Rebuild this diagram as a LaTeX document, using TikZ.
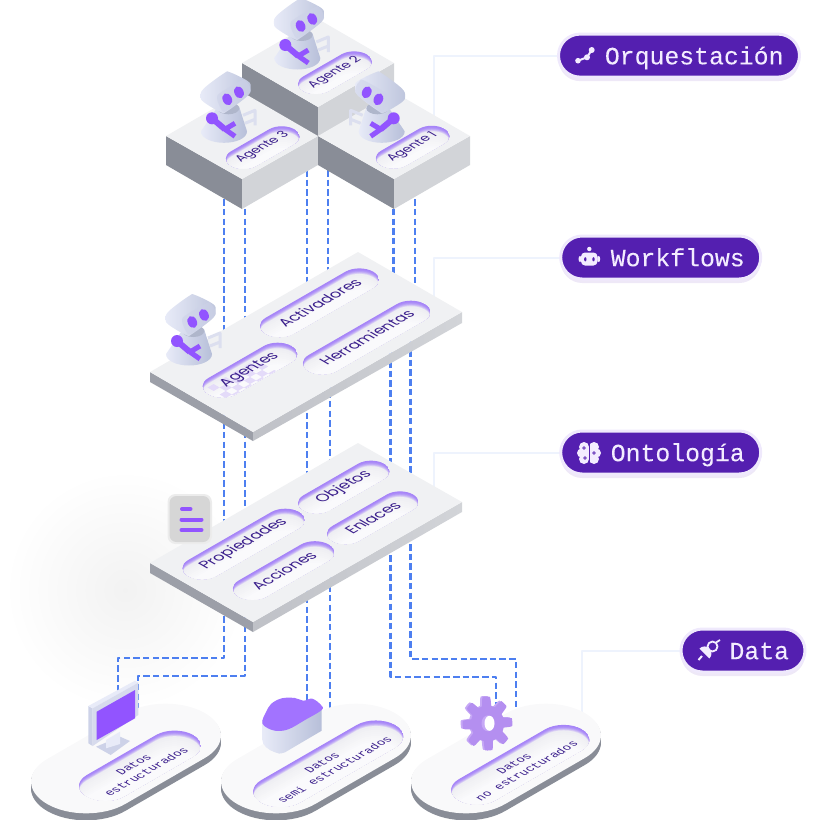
\documentclass[tikz,border=0pt]{standalone}
\usepackage{fontspec}
\setmainfont{Poppins}
\newfontfamily\monof[FakeBold=0.1]{Liberation Mono}
\newfontfamily\monop{Liberation Mono}
\usetikzlibrary{shadows}
\definecolor{dashc}{HTML}{4D7FF0}
\definecolor{leadc}{HTML}{EEF3FD}
\definecolor{topc}{HTML}{F0F1F3}
\definecolor{cubel}{HTML}{898D97}
\definecolor{cuber}{HTML}{D2D4D8}
\definecolor{platel}{HTML}{9C9FA8}
\definecolor{plater}{HTML}{BFC1C7}
\definecolor{rimc}{HTML}{A684F8}
\definecolor{pillc}{HTML}{EFEFF3}
\definecolor{pillw}{HTML}{FAFAFC}
\definecolor{txtc}{HTML}{3A1E8C}
\definecolor{labc}{HTML}{541FB0}
\definecolor{labe}{HTML}{EFE9FC}
\definecolor{labt}{HTML}{F3ECFF}
\definecolor{purp}{HTML}{9254FF}
\definecolor{cloudp}{HTML}{A273FF}
\definecolor{gearf}{HTML}{B48FF0}
\definecolor{gears}{HTML}{C6A8F6}
\definecolor{checkc}{HTML}{E4DBF9}
\definecolor{robl}{HTML}{E8EBF8}
\definecolor{robm}{HTML}{CDD2E8}
\definecolor{robd}{HTML}{B7BFD9}
\newcommand\stad[2]{(-#1pt,-#2pt) -- (#1pt,-#2pt) arc[start angle=-90,end angle=90,radius=#2pt] -- (-#1pt,#2pt) arc[start angle=90,end angle=270,radius=#2pt] -- cycle}
\newcommand\pillhook{}
\newcommand\textoff{0}
\newcommand\isopill[7]{%
 \begin{scope}[cm={.866,.5,-.866,.5,(#2,#3)},y=1pt]
  \begin{scope}
   \clip \stad{#4}{#5};
   \fill[rimc] \stad{#4}{#5};
   \foreach \k in {1,...,9}{
     \pgfmathsetmacro\mx{100-\k*\k*1.22}
     \fill[rimc!\mx!pillc, shift={(-\k*.62,-\k*.62)}] \stad{#4}{#5};
   }
   \foreach \k in {1,...,8}{
     \pgfmathsetmacro\mx{\k*12}
     \fill[pillw!\mx!pillc, shift={(-5.5-\k*2,-5.5-\k*2)}] \stad{#4}{#5};
   }
   \pillhook
  \end{scope}
  \node[transform shape,font=#6,text=txtc,align=center,inner sep=0pt] (#1) at (-\textoff,-\textoff) {#7};
 \end{scope}}
\newcommand\robotfig[3]{%
 \begin{scope}[shift={(#1,#2)},xscale=#3]
  \draw[robm!70!white,line width=3pt,line join=round] (19,-18) -- (31,-23) -- (31,-8) (21,-10) -- (31,-14);
  \shade[left color=robl,right color=robd] (-6,-27) -- (-23,-2) .. controls (-23,5) and (-12,9.5) .. (0,9.5) .. controls (12,9.5) and (23,5) .. (23,-2) -- (15,-27) -- cycle;
  \fill[robd!85!gray] (4.3,-25) ellipse [x radius=11pt,y radius=6pt];
  \fill[purp] (-12,-15) circle [radius=6pt];
  \draw[purp,line width=6pt] (-12,-15) -- (1,-4);
  \draw[purp,line width=5pt,line join=bevel] (11,-10) -- (1,-4) -- (11,3);
  \shade[left color=robl,right color=robd!90] plot[smooth cycle,tension=.6] coordinates {(-23.5,-37) (-20,-45) (0,-60) (6,-61) (24,-52) (26.5,-46) (24,-38) (3,-22) (-3,-21) (-20,-31)};
  \fill[robm,opacity=.55] plot[smooth cycle,tension=.6] coordinates {(-7,-35) (-2,-23) (3,-23) (24,-38) (26,-46) (22,-52) (18,-53) (-3,-41)};
  \fill[purp,rotate around={25:(3.3,-34)}] (3.3,-34) ellipse [x radius=4.6pt,y radius=6.2pt];
  \fill[purp,rotate around={25:(15,-41)}] (15,-41) ellipse [x radius=4.6pt,y radius=6.2pt];
 \end{scope}}
\newcommand\dataplate[3]{%
 \begin{scope}[cm={.866,.5,-.866,.5,(#1,#2)},y=1pt]
  \foreach \k in {1,...,7}{\fill[#3,shift={(-\k*1,-\k*1)}] \stad{46}{45};}
  \fill[white!60!topc] \stad{46}{45};
 \end{scope}}
\tikzset{
 dashline/.style={dashc,line width=2.8pt,dash pattern=on 6.5pt off 3.2pt},
 leadline/.style={leadc,line width=1.2pt},
 labelpill/.style={draw=labe,line width=3pt,fill=labc,rounded corners=21.5pt,minimum height=43pt,inner ysep=0pt,inner xsep=16pt,align=right,text=labt,text height=20pt,text depth=2.6pt,font=\monof\fontsize{24.8}{26}\selectfont,drop shadow={shadow xshift=0pt,shadow yshift=-4pt,opacity=.10,fill=labc}},
}
\newcommand\agfont{\fontsize{12.6}{14}\selectfont}
\newcommand\plfont{\fontsize{15}{18}\selectfont}
\newcommand\dafont{\monop\fontsize{11.8}{14.5}\selectfont}
\begin{document}
\begin{tikzpicture}[x=1pt,y=-1pt,line join=round,
  declare function={gr(\t)=22.5+4.5*min(1,max(-1,2.2*cos(8*\t)+.3));}]
\useasboundingbox (0,0) rectangle (814,820);
% soft shadow
\shade[inner color=black!5,outer color=white] (125,590) circle [radius=120pt];
% leaders
\coordinate (o1) at (557,56); \coordinate (o2) at (434,56); \coordinate (o3) at (434,116);
\coordinate (w1) at (560,258); \coordinate (w2) at (434,258); \coordinate (w3) at (434,300);
\coordinate (n1) at (560,453); \coordinate (n2) at (434,453); \coordinate (n3) at (434,495);
\coordinate (t1) at (680,651); \coordinate (t2) at (582,651); \coordinate (t3) at (582,712);
\draw[leadline] (o1) -- (o2) -- (o3);
\draw[leadline] (w1) -- (w2) -- (w3);
\draw[leadline] (n1) -- (n2) -- (n3);
\draw[leadline] (t1) -- (t2) -- (t3);
% dashed connectors
\coordinate (a0) at (224,170); \coordinate (a1) at (224,658); \coordinate (a2) at (118,658); \coordinate (a3) at (118,700);
\coordinate (b0) at (245,170); \coordinate (b1) at (245,676); \coordinate (b2) at (138,676); \coordinate (b3) at (138,712);
\coordinate (c0) at (307,170); \coordinate (c1) at (307,705);
\coordinate (d0) at (328,170); \coordinate (d1) at (328,370); \coordinate (d2) at (330,370); \coordinate (d3) at (330,710);
\coordinate (e0) at (393.7,170); \coordinate (e1) at (393.7,330); \coordinate (e2) at (390.7,330); \coordinate (e3) at (390.7,677); \coordinate (e4) at (496,677); \coordinate (e5) at (496,712);
\coordinate (f0) at (415,170); \coordinate (f1) at (415,320); \coordinate (f2) at (410.7,320); \coordinate (f3) at (410.7,659); \coordinate (f4) at (516,659); \coordinate (f5) at (516,715);
\draw[dashline] (a0) -- (a1) -- (a2) -- (a3);
\draw[dashline] (b0) -- (b1) -- (b2) -- (b3);
\draw[dashline] (c0) -- (c1);
\draw[dashline] (d0) -- (d1) -- (d2) -- (d3);
\draw[dashline] (e0) -- (e1) -- (e2) -- (e3) -- (e4) -- (e5);
\draw[dashline] (f0) -- (f1) -- (f2) -- (f3) -- (f4) -- (f5);
% cube 2
\fill[cubel] (242,63) -- (318,107) -- (318,137) -- (242,93) -- cycle;
\fill[cuber] (318,107) -- (394,63) -- (394,93) -- (318,137) -- cycle;
\fill[topc] (242,63) -- (318,19) -- (394,63) -- (318,107) -- cycle;
\robotfig{297.3}{60}{1}
\isopill{ag2}{335}{72.6}{22}{14.5}{\agfont}{Agente 2}
% cube 3
\fill[cubel] (166,136) -- (242,179) -- (242,209) -- (166,165) -- cycle;
\fill[cuber] (242,179) -- (318,136) -- (318,165) -- (242,209) -- cycle;
\fill[topc] (166,136) -- (242,92) -- (318,136) -- (242,179) -- cycle;
\robotfig{224}{133.3}{1}
\isopill{ag3}{262.7}{147.5}{22}{14.5}{\agfont}{Agente 3}
% cube 1
\fill[cubel] (318,136) -- (394,179) -- (394,209) -- (318,165) -- cycle;
\fill[cuber] (394,179) -- (470,136) -- (470,165) -- (394,209) -- cycle;
\fill[topc] (318,136) -- (394,92) -- (470,136) -- (394,179) -- cycle;
\robotfig{381.7}{133.3}{-1}
\isopill{ag1}{412.7}{147}{22}{14.5}{\agfont}{Agente 1}
% workflows plate
\fill[platel] (150,372) -- (253,432) -- (253,441) -- (150,382) -- cycle;
\shade[left color=plater,right color=cuber] (253,432) -- (462,312) -- (462,323) -- (253,441) -- cycle;
\fill[topc] (150,372) -- (358,252) -- (462,312) -- (253,432) -- cycle;
\isopill{pact}{319.5}{302.7}{46}{16}{\plfont}{Activadores}
\renewcommand\pillhook{\foreach \i in {-6,...,1}{\foreach \j in {-3,...,0}{\pgfmathparse{int(mod(\i+\j+20,2))}\ifnum\pgfmathresult=0\relax\fill[checkc] (\i*7,\j*7) rectangle ++(7,7);\fi}}}
\isopill{page}{250}{370}{32}{16}{\plfont}{Agentes}
\renewcommand\pillhook{}
\isopill{pher}{366.7}{337.5}{51}{16}{\plfont}{Herramientas}
\robotfig{189}{356}{1}
% ontology plate
\fill[platel] (150,563) -- (253,622) -- (253,632) -- (150,573) -- cycle;
\shade[left color=plater,right color=cuber] (253,622) -- (462,502) -- (462,512) -- (253,632) -- cycle;
\fill[topc] (150,563) -- (358,443) -- (462,502) -- (253,622) -- cycle;
\isopill{pobj}{343.8}{487}{31.5}{15}{\plfont}{Objetos}
\isopill{pprop}{243.7}{544}{48}{16}{\plfont}{Propiedades}
\isopill{penl}{372.7}{517.7}{31.5}{15}{\plfont}{Enlaces}
\isopill{pacc}{283.7}{570.5}{36}{16}{\plfont}{Acciones}
% card icon
\fill[white!85!gray,rounded corners=8pt] (167.5,494) rectangle (212,544);
\fill[black!16!white,rounded corners=7pt] (169.5,496) rectangle (210,542);
\draw[purp,line width=4pt,line cap=round] (182,509) -- (190.5,509);
\draw[purp,line width=4pt,line cap=round] (181.5,519.5) -- (201.5,519.5);
\draw[purp,line width=4pt,line cap=round] (181.5,530) -- (201.5,530);
% data plates
\dataplate{126}{758.5}{cubel}
\dataplate{316}{758.5}{cubel}
\dataplate{506}{758.5}{cubel}
\renewcommand\textoff{2.5}
\isopill{dat1}{140}{765.7}{40}{21.4}{\dafont}{Datos\\estructurados}
\isopill{dat2}{328.3}{763.7}{55}{22.3}{\dafont}{Datos\\semi estructurados}
\isopill{dat3}{520.3}{764.7}{50}{21}{\dafont}{Datos\\no estructurados}
\renewcommand\textoff{0}
% monitor
\fill[robm] (96,746.7) -- (120,736.7) -- (130,741) -- (110.7,755) -- cycle;
\fill[robl] (106,740) -- (120,731.7) -- (120,744) -- (106,748.3) -- cycle;
\fill[robm] (88.3,706) -- (92.7,708.3) -- (92.7,746) -- (88.3,743.3) -- cycle;
\fill[robl] (88.3,706) -- (135,680.7) -- (138.3,682.7) -- (92.7,708.3) -- cycle;
\fill[robm!80!white] (92.7,708.3) -- (138.3,682.7) -- (138.3,715) -- (92.7,746) -- cycle;
\fill[purp] (96.7,711.7) -- (135,690) -- (135,718.3) -- (96.7,740) -- cycle;
% cloud
\shade[left color=robl,right color=robd] (262.3,720) -- (321.7,706) -- (321.7,730.7) -- (285,752.3) .. controls (280,754) and (278,754) .. (275,752.3) .. controls (268,750) and (262.3,745) .. (262.3,740) -- cycle;
\fill[cloudp] plot[smooth cycle,tension=.6] coordinates {(262.3,720.7) (265.7,712.7) (271,704) (281.7,698.3) (295,698) (303.3,700.7) (312.3,698.7) (321,705) (321.7,710) (305,720) (288.3,729.3) (275,730.7) (264.3,726)};
% gear
\fill[gears] plot[domain=0:360,samples=161,variable=\t] ({485.5+.92*gr(\t+3)*cos(\t)},{723+gr(\t+3)*sin(\t)});
\fill[gearf] plot[domain=0:360,samples=161,variable=\t] ({487.5+.92*gr(\t+3)*cos(\t)},{723.5+gr(\t+3)*sin(\t)});
\fill[gears] (488,723.3) ellipse [x radius=6.5pt,y radius=8pt];
\fill[white] (489.5,723.3) ellipse [x radius=5pt,y radius=7.5pt];
% labels
\node[labelpill,text width=209pt] (lorq) at (679,55.6) {Orquestación};
\node[labelpill,text width=168pt] (lwor) at (660.7,257.5) {Workflows};
\node[labelpill,text width=168pt] (lont) at (660.7,452.5) {Ontología};
\node[labelpill,text width=92pt] (ldat) at (743,650.5) {Data};
% icons
\draw[labt,line width=2pt] (578,60.7) -- (587,57.3) -- (591.7,50);
\fill[labt] (578,60.7) circle [radius=2.8pt] (587,57.3) circle [radius=3pt] (591.7,50) circle [radius=3pt];
\fill[labt,rounded corners=4pt] (581,252.5) rectangle (597.5,265.5);
\fill[labt] (589.3,249) circle [radius=2.2pt];
\fill[labt] (580,259) ellipse [x radius=1.5pt,y radius=3pt] (598.7,259) ellipse [x radius=1.5pt,y radius=3pt];
\fill[labc] (585.3,259.3) ellipse [x radius=1.2pt,y radius=2.1pt] (593.5,259.3) ellipse [x radius=1.2pt,y radius=2.1pt];
\fill[labt] (584,447) circle [radius=5pt] (581.5,453) circle [radius=4.5pt] (584,459) circle [radius=5pt] (594,447) circle [radius=5pt] (596.5,453) circle [radius=4.5pt] (594,459) circle [radius=5pt] (589,453) circle [radius=6pt];
\draw[labc,line width=1pt] (589,443) -- (589,463);
\draw[labc,line width=.8pt] (584,448) circle [radius=1.4pt] (594,453) circle [radius=1.4pt] (585,458) circle [radius=1.4pt];
\fill[labt] (699.5,648.5) arc[start angle=135,end angle=-45,radius=7pt] -- cycle;
\draw[labt,line width=2pt] (698.5,660) -- (702,656);
\draw[labt,line width=1.8pt] (712.5,646.5) circle [radius=5pt];
\draw[labt,line width=1.8pt] (716,642.5) -- (720,640) (708.5,650) -- (705,653);
\end{tikzpicture}
\end{document}
